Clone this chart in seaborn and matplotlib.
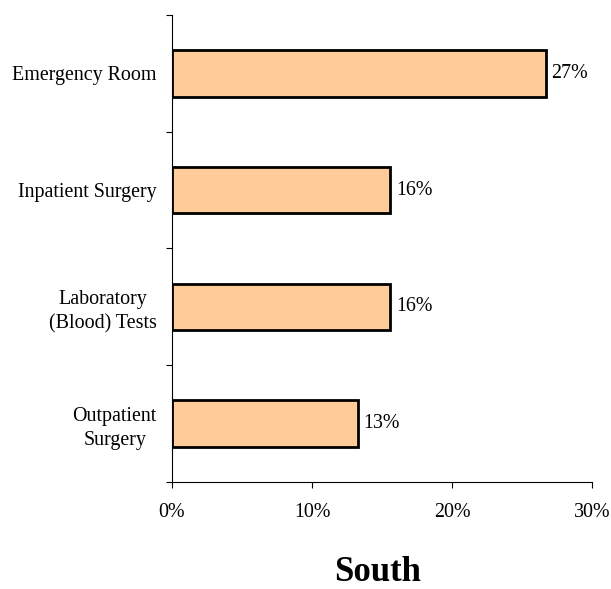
import matplotlib
matplotlib.use("Agg")
import matplotlib.pyplot as plt
from matplotlib.ticker import FixedLocator, PercentFormatter, NullFormatter
import seaborn as sns
import pandas as pd

categories = ["Emergency Room", "Inpatient Surgery", "Laboratory\n(Blood) Tests", "Outpatient\nSurgery"]
shares = [26.7, 15.6, 15.6, 13.3]
x_ticks = [0, 10, 20, 30]
title = "South"

sns.set_theme(style="white")
plt.rcParams["font.family"] = ["Liberation Serif", "DejaVu Serif"]

df = pd.DataFrame({"category": categories, "share": shares})

fig = plt.figure(figsize=(6.11, 5.89), dpi=100)
ax = fig.add_axes([0.2815, 0.1817, 0.6875, 0.7928])

sns.barplot(data=df, x="share", y="category", orient="h", ax=ax,
            color="#FFCC99", saturation=1, width=0.4,
            edgecolor="black", linewidth=2)

ax.set_xlim(0, 30)
ax.set_ylim(len(categories) - 0.5, -0.5)
ax.set_xticks(x_ticks)
ax.xaxis.set_major_formatter(PercentFormatter(decimals=0))

# category labels sit on major ticks (hidden); boundary marks are minor ticks
ax.yaxis.set_minor_locator(FixedLocator([i - 0.5 for i in range(len(categories) + 1)]))
ax.yaxis.set_minor_formatter(NullFormatter())
ax.tick_params(axis="y", which="major", length=0, pad=11, labelsize=14.4, colors="black")
ax.tick_params(axis="y", which="minor", left=True, length=4, width=0.8, color="black")
ax.tick_params(axis="x", which="major", bottom=True, length=4, width=0.8, color="black",
               pad=11, labelsize=14.4, labelcolor="black")
for lbl in ax.get_yticklabels():
    lbl.set_multialignment("center")
    lbl.set_linespacing(1.35)

ax.set_xlabel("")
ax.set_ylabel("")
for side in ("top", "right"):
    ax.spines[side].set_visible(False)
for side in ("left", "bottom"):
    ax.spines[side].set_color("black")
    ax.spines[side].set_linewidth(0.8)

for container in ax.containers:
    ax.bar_label(container, labels=[f"{v:.0f}%" for v in shares], padding=4,
                 fontsize=14.4, color="black")

fig.text(378 / 611, 1 - 581 / 589, title, ha="center", va="baseline",
         fontsize=25, fontweight="bold", color="black")

fig.savefig("out.png", dpi=100)
